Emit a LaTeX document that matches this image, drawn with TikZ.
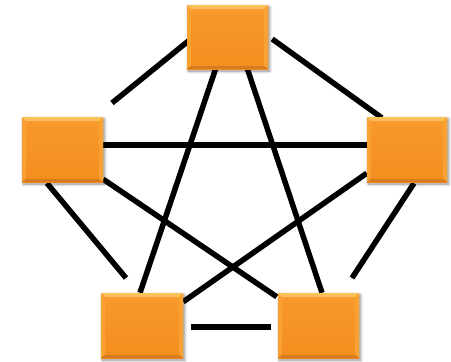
\documentclass[tikz,border=0pt]{standalone}
\usetikzlibrary{calc,backgrounds,shadows.blur}
\definecolor{boxtop}{HTML}{F89A2C}
\definecolor{boxbot}{HTML}{F48D1E}
\definecolor{bevtop}{HTML}{FCC05A}
\definecolor{bevside}{HTML}{F9A233}
\definecolor{bevbot}{HTML}{D77A1C}
\tikzset{
  box/.style={rectangle, minimum width=81pt, minimum height=65pt, inner sep=0pt,
    top color=boxtop, bottom color=boxbot, draw=none,
    blur shadow={shadow xshift=1.5pt, shadow yshift=-2pt, shadow blur steps=8, shadow blur radius=3pt, shadow opacity=45},
    path picture={
      \fill[bevtop] (path picture bounding box.north west) -- (path picture bounding box.north east)
        -- ($(path picture bounding box.north east)+(-4,4)$) -- ($(path picture bounding box.north west)+(4,4)$) -- cycle;
      \fill[bevside] (path picture bounding box.north west) -- ($(path picture bounding box.north west)+(4,4)$)
        -- ($(path picture bounding box.south west)+(4,-3)$) -- (path picture bounding box.south west) -- cycle;
      \fill[bevside] (path picture bounding box.north east) -- ($(path picture bounding box.north east)+(-4,4)$)
        -- ($(path picture bounding box.south east)+(-4,-3)$) -- (path picture bounding box.south east) -- cycle;
      \fill[bevbot] (path picture bounding box.south west) -- (path picture bounding box.south east)
        -- ($(path picture bounding box.south east)+(-4,-3)$) -- ($(path picture bounding box.south west)+(4,-3)$) -- cycle;
    }},
  link/.style={draw=black, line width=5.5pt}
}
\begin{document}
\begin{tikzpicture}[x=1pt,y=-1pt]
\useasboundingbox (0,0) rectangle (451,362);
\node[box, minimum height=64pt] (t) at (227.5,37) {};
\node[box] (l) at (62.5,149.5) {};
\node[box, minimum width=80pt] (r) at (407,149.5) {};
\node[box, minimum width=82pt] (bl) at (142,325.5) {};
\node[box] (br) at (318.5,325.5) {};
\coordinate (e1) at (112,103);
\coordinate (e6) at (126,278);
\coordinate (e9) at (352,278);
\begin{scope}[on background layer]
\draw[link] ($(t.west)+(4,2)$) -- (e1);
\draw[link] ($(t.east)+(4,2)$) -- ($(r.north west)+(15,1)$);
\draw[link] ($(t.south)+(-12,0)$) -- ($(bl.north)+(-2,0)$);
\draw[link] ($(t.south)+(20,0)$) -- ($(br.north)+(3.5,0)$);
\draw[link] ($(l.east)+(0,-4.5)$) -- ($(r.west)+(0,-4.5)$);
\draw[link] ($(l.south)+(-15.5,1)$) -- (e6);
\draw[link] ($(l.south east)+(0,-3)$) -- ($(br.north west)+(-1,4)$);
\draw[link] ($(r.south west)+(0,-9)$) -- ($(bl.north east)+(0,9)$);
\draw[link] ($(r.south)+(7,1)$) -- (e9);
\draw[link] ($(bl.east)+(8,1.5)$) -- ($(br.west)+(-7,1.5)$);
\end{scope}
\end{tikzpicture}
\end{document}
